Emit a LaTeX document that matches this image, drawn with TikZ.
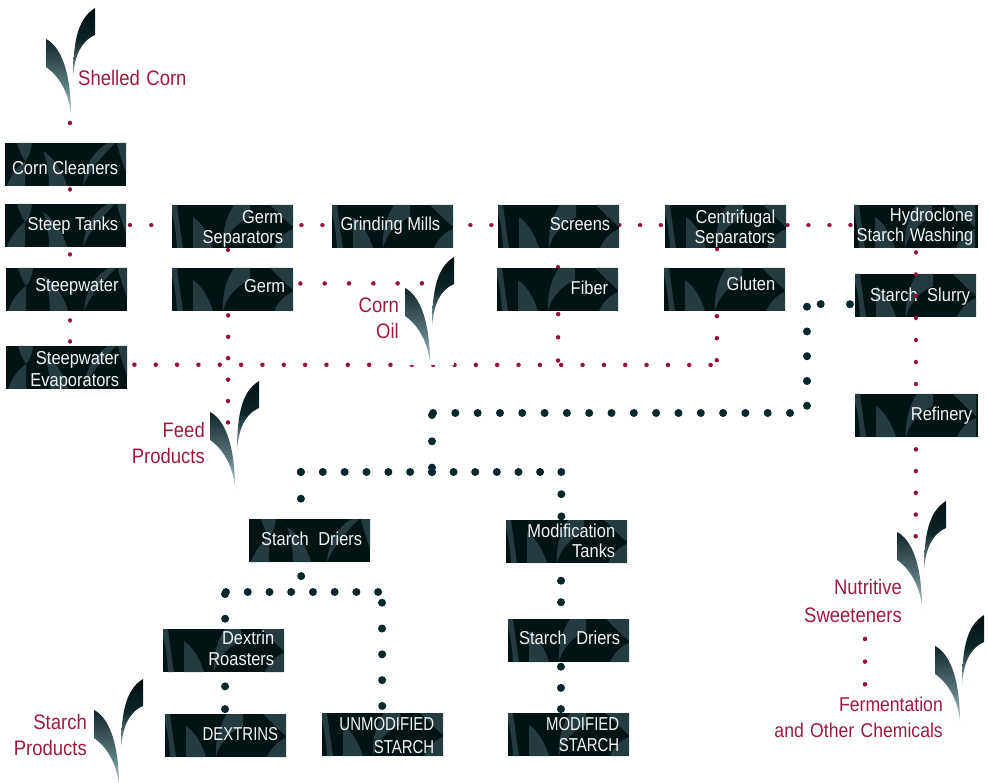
\documentclass[tikz,border=0pt]{standalone}
\usepackage{fontspec}
\setmainfont{Liberation Sans}[FakeStretch=0.88]
\newfontfamily\capsfam{Liberation Sans}[FakeStretch=0.8]
\usetikzlibrary{calc}
\definecolor{boxdark}{HTML}{011414}
\definecolor{boxlight}{HTML}{243C40}
\definecolor{boxtxt}{HTML}{F2F4F4}
\definecolor{wine}{HTML}{9E1B40}
\definecolor{reddot}{HTML}{960F3C}
\definecolor{darkdot}{HTML}{03282C}
\definecolor{la}{HTML}{E4EAEA}\definecolor{lb}{HTML}{A0B4B6}\definecolor{lc}{HTML}{5A7A7E}\definecolor{ld}{HTML}{12262A}
\definecolor{ra}{HTML}{C5D0D0}\definecolor{rb}{HTML}{5D7579}\definecolor{rc}{HTML}{0F2528}\definecolor{rd}{HTML}{011012}
\pgfdeclareverticalshading{leafleft}{100bp}{color(0bp)=(la); color(25bp)=(la); color(32bp)=(lb); color(45bp)=(lc); color(75bp)=(ld); color(100bp)=(ld)}
\pgfdeclareverticalshading{leafright}{100bp}{color(0bp)=(ra); color(25bp)=(ra); color(36bp)=(rb); color(52bp)=(rc); color(75bp)=(rd); color(100bp)=(rd)}
\pgfdeclarelayer{under}
\pgfdeclarelayer{texture}
\pgfsetlayers{under,texture,main}
\newcommand\leafat[2]{%
  \begin{scope}[shift={(#1,#2)}]
    \shade[shading=leafleft,draw=none] (0,31) .. controls (14,38) and (25,62) .. (25,108) .. controls (24,90) and (16,70) .. (0,59) -- cycle;
    \shade[shading=leafright,draw=none] (49,0) .. controls (33,10) and (27,30) .. (27,71) .. controls (28,52) and (33,34) .. (49,27) -- cycle;
  \end{scope}}
\newcommand\texA{%
  \fill[boxlight] (0,0)--(5,0).. controls (7,15) and (9,30)..(11,43)--(5,43)..controls(4,25) and (2,15)..(0,8)--cycle;
  \fill[boxlight] (21,12) .. controls (30,18) and (37,30) .. (41,43) -- (21,43) -- cycle;
  \fill[boxlight] (51,43) .. controls (50,25) and (55,10) .. (62,0) -- (78,0) -- (78,12) .. controls (64,18) and (54,30) .. (51,43) -- cycle;
  \fill[boxlight] (98,0)--(121,0)--(121,22) .. controls (112,14) and (104,6)..(98,0) -- cycle;
  \fill[boxlight] (102,43) .. controls (106,34) and (113,27) .. (121,24)-- (121,43)--cycle;}
\newcommand\texB{%
  \fill[boxlight] (12,0)--(27,0)..controls(26,8) and (24,14)..(20,18)..controls (16,12) and (14,6) ..(12,0)--cycle;
  \fill[boxlight] (2,43)..controls(6,32) and (12,24)..(20,18)--(20,43)--cycle;
  \fill[boxlight] (38,8)..controls(48,14) and (58,28)..(62,43)--(44,43)..controls(44,30) and(42,18)..(38,8)--cycle;
  \fill[boxlight] (78,43)..controls(79,25) and(88,8)..(103,0)--(110,0)..controls(96,14) and(84,28)..(78,43)--cycle;
  \fill[boxlight] (121,0)--(121,30)..controls(118,20) and(114,10)..(112,0)--cycle;}
% width, name, x, y, texture, right margin, first baseline, lines
\newcommand\bx[8]{%
  \pgfmathsetmacro\bxd{#7-#4-21.5}\pgfmathsetmacro\bxw{#1-#6}%
  \node[tbox,minimum width=#1pt] (#2) at (#3,#4) {\makebox[#1pt][l]{\raisebox{-\bxd pt}[0pt][0pt]{\parbox[t]{\bxw pt}{\raggedleft #8}}}};
  \begin{pgfonlayer}{texture}
    \begin{scope}
      \clip (#2.north west) rectangle (#2.south east);
      \fill[boxdark] (#2.north west) rectangle (#2.south east);
      \begin{scope}[shift={(#2.north west)}]#5\end{scope}
    \end{scope}
  \end{pgfonlayer}}
\tikzset{
  tbox/.style={anchor=north west,minimum height=43pt,inner sep=0pt,text=boxtxt,
    font=\fontsize{18.7}{20}\selectfont},
  winelabel/.style={anchor=north east,inner sep=0pt,align=right,text=wine,font=\fontsize{21}{26}\selectfont},
  reddots/.style={draw=reddot,line width=4.5pt,line cap=round,dash pattern=on 0.01pt off #1pt},
  reddots/.default=21.4,
  darkdots/.style={draw=darkdot,line width=8pt,line cap=round,dash pattern=on 0.01pt off #1pt},
}
\begin{document}
\begin{tikzpicture}[x=1pt,y=-1pt]
\useasboundingbox (0,0) rectangle (988,783);
% boxes
\bx{121}{cleaners}{5}{143}{\texB}{8}{174}{Corn Cleaners}
\bx{121}{steep}{5}{204}{\texB}{8}{230}{Steep Tanks}
\bx{121}{steepw}{6}{268}{\texB}{8.7}{291.7}{Steepwater}
\bx{121}{evap}{6}{346}{\texB}{8}{364}{Steepwater\\[2pt]Evaporators}
\bx{121}{germsep}{172}{205}{\texA}{10}{223.3}{Germ\\Separators}
\bx{121}{germ}{172}{268}{\texA}{8}{292.7}{Germ}
\bx{121}{mills}{332}{205}{\texA}{13}{230.7}{Grinding Mills}
\bx{121}{screens}{498}{205}{\texA}{9}{230.7}{Screens}
\bx{121}{centri}{665}{205}{\texA}{11}{223.3}{Centrifugal\\Separators}
\bx{124}{hydro}{854}{205}{\texA}{5}{221.7}{Hydroclone\\Starch\hspace{1pt} Washing}
\bx{121}{fiber}{497}{268}{\texA}{10}{294}{Fiber}
\bx{121}{gluten}{664}{268}{\texA}{10}{290.7}{Gluten}
\bx{121}{slurry}{855}{274}{\texA}{6}{301}{Starch\hspace{5pt} Slurry}
\bx{123}{refinery}{855}{394}{\texA}{6}{420.7}{Refinery}
\bx{121}{driersa}{249}{519}{\texB}{8}{545}{Starch\hspace{5pt} Driers}
\bx{121}{modif}{506}{520}{\texA}{12}{537.3}{Modification\\[0.4pt]Tanks}
\bx{121}{dextrin}{163}{629}{\texA}{10}{644.3}{Dextrin\\[0.7pt]Roasters}
\bx{121}{dextrins}{165}{714}{\texA}{8}{740.7}{\capsfam DEXTRINS}
\bx{121}{unmod}{322}{713}{\texA}{9}{730}{\capsfam UNMODIFIED\\[3.3pt]STARCH}
\bx{121}{driersb}{508}{619}{\texA}{9}{644}{Starch\hspace{5pt} Driers}
\bx{121}{modified}{508}{713}{\texA}{10}{730.7}{\capsfam MODIFIED\\[0.7pt]STARCH}
% leaves
\leafat{46}{8}
\fill[white] (405,257) rectangle (454,365);
\leafat{405}{257}
\leafat{210}{381}
\leafat{897}{501}
\leafat{935}{615}
\leafat{94}{679}
% labels
\node[anchor=base west,inner sep=0pt,text=wine,font=\fontsize{21}{26}\selectfont] (shelled) at (78,86) {Shelled\hspace{1.5pt} Corn};
\node[winelabel] (oil) at (399,293.8) {\strut Corn\\\strut Oil};
\node[winelabel] (feed) at (205,418.8) {\strut Feed\\\strut Products};
\node[winelabel] (nutritive) at (902,575.8) {\strut Nutritive\\[2pt]\strut Sweeteners};
\node[winelabel,font=\fontsize{20}{26}\selectfont] (ferment) at (943,692.8) {\strut Fermentation\\\strut and\hspace{1.5pt} Other\hspace{1.5pt} Chemicals};
\node[winelabel] (starchprod) at (87,710.8) {\strut Starch\\\strut Products};
% free ends
\coordinate (tipshelled) at (70,116);
\coordinate (gluejoin) at (716.7,365);
\coordinate (fiberjoin) at (558,365);
\coordinate (endoil) at (426,283.3);
\coordinate (endfeed) at (228,426);
\coordinate (endnutri) at (915.7,540);
\coordinate (ja) at (807,304);
\coordinate (jb) at (807,306.7);
\coordinate (jc) at (807,410);
\coordinate (jd) at (790,413);
\coordinate (je) at (432.7,413);
\coordinate (jf) at (432,415);
\coordinate (jg) at (432,470);
\coordinate (jh) at (432,472);
\coordinate (ji) at (300.8,472);
\coordinate (jj) at (561.3,472);
\coordinate (jk) at (301,592);
\coordinate (jl) at (226,592);
\coordinate (jm) at (378.5,592);
\coordinate (jn) at (382,602.7);
\coordinate (jo) at (225,594);
\begin{pgfonlayer}{under}
\draw[reddots] ([shift={(0,7)}]tipshelled) -- ([shift={(4.5,0)}]cleaners.north);
\draw[reddots] ([shift={(4.5,3)}]cleaners.south) -- ([shift={(4.5,0)}]steep.north);
\draw[reddots] ([shift={(4.5,7)}]steep.south) -- ([shift={(3.5,0)}]steepw.north);
\draw[reddots=21] ([shift={(3.5,9)}]steepw.south) -- ([shift={(3.5,0)}]evap.north);
\draw[reddots=21.33] ([shift={(7,-3)}]evap.east) -- (gluejoin);
\draw[reddots] ([shift={(3.5,-0.5)}]steep.east) -- ([shift={(0.5,-1.5)}]germsep.west);
\draw[reddots=21] ([shift={(8,-1.5)}]germsep.east) -- ([shift={(0,-1.5)}]mills.west);
\draw[reddots=21] ([shift={(17,-1.5)}]mills.east) -- ([shift={(0,-1.5)}]screens.west);
\draw[reddots=20.7] ([shift={(0,-1.5)}]screens.east) -- ([shift={(0,-1.5)}]centri.west);
\draw[reddots=21] ([shift={(1,-1.5)}]centri.east) -- ([shift={(0,-1.5)}]hydro.west);
\draw[reddots] ([shift={(-4.5,1.5)}]germsep.south) -- ([shift={(-4.5,0)}]germ.north);
\draw[reddots] ([shift={(-0.5,18.7)}]screens.south) -- ([shift={(0.5,0)}]fiber.north);
\draw[reddots=23.2] ([shift={(0.5,2.7)}]fiber.south) -- (fiberjoin);
\draw[reddots] ([shift={(-8.8,0.7)}]centri.south) -- ([shift={(-7.8,0)}]gluten.north);
\draw[reddots=22] ([shift={(-7.8,4.8)}]gluten.south) -- (gluejoin);
\draw[reddots=22.7] ([shift={(12,8.7)}]nutritive.south) -- (ferment.north -| 865,0);
% dark
\draw[darkdots=29.3] ([shift={(-5,8.5)}]slurry.west) -- (ja);
\draw[darkdots=24.75] (jb) -- (jc);
\draw[darkdots=22.3] (jd) -- (je);
\draw[darkdots=26.3] (jf) -- (jg);
\draw[darkdots=21.83] (jh) -- (ji);
\draw[darkdots=21.6] (jh) -- (jj);
\draw[darkdots=26.7] (ji) -- ([shift={(-8.7,0)}]driersa.north);
\draw[darkdots=22.2] (jj) -- ([shift={(-5.3,0)}]modif.north);
\draw[darkdots=22] ([shift={(-8.5,13.7)}]driersa.south) -- (jk);
\draw[darkdots=21.72] (jl) -- (jm);
\draw[darkdots=25.8] (jn) -- ([shift={(-0.5,0)}]unmod.north);
\draw[darkdots=24.7] (jo) -- ([shift={(1.5,0)}]dextrin.north);
\draw[darkdots=22.7] ([shift={(1.5,14)}]dextrin.south) -- ([shift={(-0.5,0)}]dextrins.north);
\draw[darkdots=21.5] ([shift={(-5.5,17.3)}]modif.south) -- ([shift={(-7.5,0)}]driersb.north);
\draw[darkdots=21.2] ([shift={(-8,4.3)}]driersb.south) -- ([shift={(-8,0)}]modified.north);
\end{pgfonlayer}
% dots lying over the leaves and the boxes on the right
\draw[reddots] ([shift={(-4.5,4)}]germ.south) -- (endfeed);
\draw[reddots=24.3] ([shift={(7,-6.2)}]germ.east) -- (endoil);
\draw[reddots=22] ([shift={(-0.3,4)}]hydro.south) -- ([shift={(0.2,0.5)}]slurry.north);
\draw[reddots=22] ([shift={(0.2,22)}]slurry.north) -- ([shift={(-0.8,0)}]refinery.north);
\draw[reddots=21.7] ([shift={(-0.8,12)}]refinery.south) -- (endnutri);
\end{tikzpicture}
\end{document}
